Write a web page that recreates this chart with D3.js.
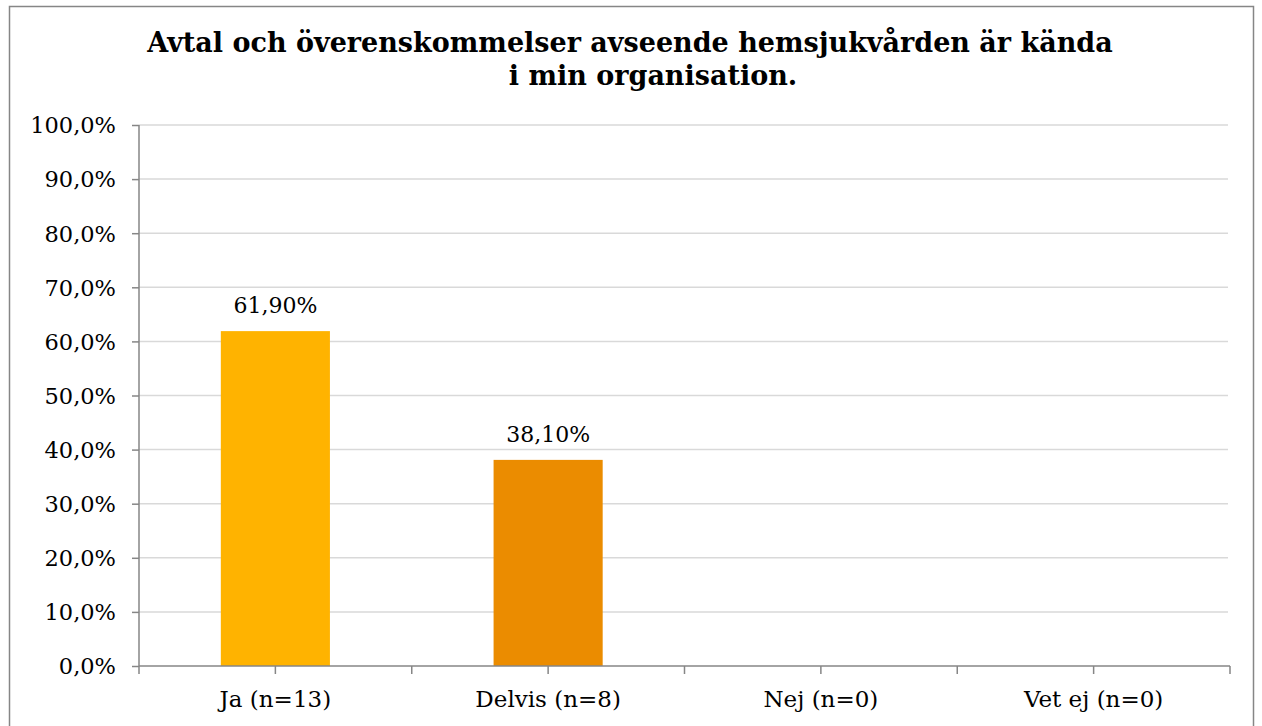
<!DOCTYPE html>
<html>
<head>
<meta charset="utf-8">
<script src="https://cdn.jsdelivr.net/npm/d3@7"></script>
<style>
  body { margin: 0; background: #fff; }
  svg { display: block; }
  text { font-family: Georgia, "DejaVu Serif", serif; fill: #000; }
</style>
</head>
<body>
<div class="chart"></div>
<script>
// data
const categories = ["Ja (n=13)", "Delvis (n=8)", "Nej (n=0)", "Vet ej (n=0)"];
const values = [0.619, 0.381, 0, 0];
const valueLabels = ["61,90%", "38,10%", "", ""];
const barColors = ["#FFB300", "#EB8C00", "#FFB300", "#EB8C00"];
const yTicks = [0, 0.1, 0.2, 0.3, 0.4, 0.5, 0.6, 0.7, 0.8, 0.9, 1.0];
const titleLines = ["Avtal och överenskommelser avseende hemsjukvården är kända", "i min organisation."];

const W = 1262, H = 726;
const margin = { top: 125, right: 32, bottom: 60, left: 139 };
const width = 1230 - margin.left, height = 666 - margin.top;

const svg = d3.select(".chart").append("svg")
  .attr("width", W).attr("height", H);

// chart frame
svg.append("rect")
  .attr("x", 9.5).attr("y", 6.5)
  .attr("width", 1244).attr("height", 740)
  .attr("fill", "none").attr("stroke", "#868686").attr("stroke-width", 1.5);

// title
svg.selectAll(".title")
  .data(titleLines)
  .enter().append("text")
  .attr("class", "title")
  .attr("x", (d, i) => i === 0 ? 630 : 653)
  .attr("y", (d, i) => 52 + i * 33)
  .attr("text-anchor", "middle")
  .style("font-size", "27px")
  .style("font-weight", "bold")
  .text(d => d);

const g = svg.append("g")
  .attr("transform", "translate(" + margin.left + "," + margin.top + ")");

let x = d3.scaleBand()
  .domain(categories)
  .range([0, width]);

let y = d3.scaleLinear()
  .domain([0, 1])
  .range([height, 0]);

// grid lines
g.append("g")
  .selectAll("line")
  .data(yTicks.slice(1))
  .enter().append("line")
  .attr("x1", 0).attr("x2", width - 2)
  .attr("y1", d => y(d)).attr("y2", d => y(d))
  .attr("stroke", "#d9d9d9").attr("stroke-width", 1.5);

// y axis
const fmtPct = d => d3.format(".1f")(d * 100).replace(".", ",") + "%";
g.append("g")
  .attr("class", "axis y")
  .call(d3.axisLeft(y).tickValues(yTicks).tickFormat(fmtPct).tickSize(7).tickPadding(16))
  .call(a => a.select(".domain").attr("d", "M0," + y(1) + "V" + y(0)))
  .call(a => a.selectAll("line, path").attr("stroke", "#868686").attr("stroke-width", 1.5))
  .call(a => a.selectAll("text").style("font-size", "22.5px").style("font-family", null).attr("dy", "0.35em"));

// bars
g.selectAll(".bar")
  .data(values)
  .enter().append("rect")
  .attr("class", "bar")
  .attr("x", (d, i) => x(categories[i]) + x.bandwidth() * 0.3)
  .attr("y", d => y(d))
  .attr("width", x.bandwidth() * 0.4)
  .attr("height", d => height - y(d))
  .attr("fill", (d, i) => barColors[i]);

// value labels
g.selectAll(".vlabel")
  .data(values)
  .enter().append("text")
  .attr("class", "vlabel")
  .attr("x", (d, i) => x(categories[i]) + x.bandwidth() / 2)
  .attr("y", d => y(d) - 18)
  .attr("text-anchor", "middle")
  .style("font-size", "22px")
  .text((d, i) => valueLabels[i]);

// x axis
const halfTicks = [];
categories.forEach(c => { halfTicks.push(x(c)); halfTicks.push(x(c) + x.bandwidth() / 2); });
halfTicks.push(width);
const xAxis = g.append("g")
  .attr("transform", "translate(0," + height + ")");
xAxis.append("line")
  .attr("x1", 0).attr("x2", width)
  .attr("stroke", "#868686").attr("stroke-width", 1.5);
xAxis.selectAll(".tick")
  .data(halfTicks)
  .enter().append("line")
  .attr("x1", d => d).attr("x2", d => d)
  .attr("y1", 0).attr("y2", 8)
  .attr("stroke", "#868686").attr("stroke-width", 1.5);
xAxis.selectAll(".clabel")
  .data(categories)
  .enter().append("text")
  .attr("x", d => x(d) + x.bandwidth() / 2)
  .attr("y", 41)
  .attr("text-anchor", "middle")
  .style("font-size", "23px")
  .text(d => d);
</script>
</body>
</html>
